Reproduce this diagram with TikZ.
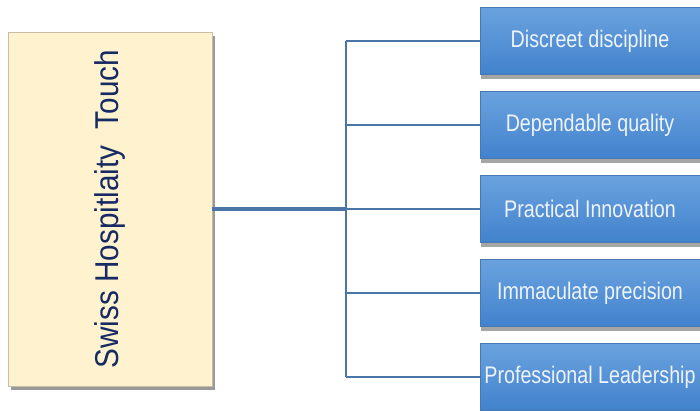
\documentclass[tikz,border=0pt]{standalone}
\usepackage{fontspec}
\setmainfont{Liberation Sans}
\newfontfamily\boxfont[FakeStretch=0.82]{Liberation Sans}
\newfontfamily\titlefont[FakeStretch=0.9]{Liberation Sans}
\usetikzlibrary{shadows}
\definecolor{linkblue}{RGB}{74,118,168}
\definecolor{creamfill}{RGB}{255,242,206}
\definecolor{creamedge}{RGB}{200,190,165}
\definecolor{navytext}{RGB}{22,42,100}
\definecolor{bluetop}{RGB}{106,162,222}
\definecolor{bluebot}{RGB}{66,130,205}
\definecolor{blueedge}{RGB}{70,120,180}
\definecolor{boxtext}{RGB}{238,243,252}
\tikzset{
  titlebox/.style={draw=creamedge, line width=0.8pt, fill=creamfill,
    minimum width=204pt, minimum height=354pt, inner sep=0pt,
    drop shadow={shadow xshift=3pt, shadow yshift=-4pt, opacity=0.4, fill=black}},
  itembox/.style={draw=blueedge, line width=0.5pt, top color=bluetop, bottom color=bluebot,
    minimum width=220pt, minimum height=67pt, inner sep=0pt,
    text=boxtext, font=\boxfont\fontsize{24}{28}\selectfont,
    drop shadow={shadow xshift=1pt, shadow yshift=-4pt, opacity=0.35, fill=black}},
  trunk/.style={draw=linkblue, line width=3.2pt},
  branch/.style={draw=linkblue, line width=2.2pt}
}
\begin{document}
\begin{tikzpicture}[x=1pt, y=-1pt]
\useasboundingbox (0,0) rectangle (700,410);
\clip (0,0) rectangle (700,410);
\node[titlebox] (main) at (110,209)
  {\rotatebox{90}{\color{navytext}\titlefont\fontsize{33}{37}\selectfont Swiss Hospitlaity~~Touch}};
\node[itembox] (b1) at (590,41) {Discreet discipline};
\node[itembox] (b2) at (590,125) {Dependable quality};
\node[itembox] (b3) at (590,209) {Practical Innovation};
\node[itembox] (b4) at (590,293) {Immaculate precision};
\node[itembox] (b5) at (590,377) {Professional Leadership};
\coordinate (hub) at (346,209);
\draw[trunk] (main.east) -- (hub);
\draw[branch, line width=2.6pt] (hub |- b1.west) -- (hub |- b5.west);
\foreach \b in {b1,b2,b3,b4,b5} {
  \draw[branch] (hub |- \b.west) -- (\b.west);
}
\end{tikzpicture}
\end{document}
